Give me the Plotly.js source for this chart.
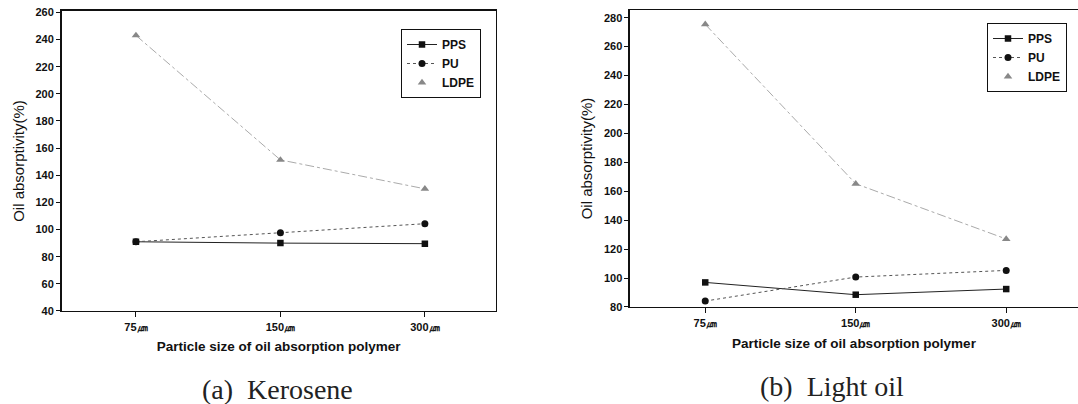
<!DOCTYPE html>
<html>
<head>
<meta charset="utf-8">
<script src="https://cdn.plot.ly/plotly-3.0.1.min.js"></script>
<style>html,body{margin:0;padding:0;background:#fff;}#chart{width:1078px;height:404px;}</style>
</head>
<body>
<div id="chart"></div>
<script>
const sizes = ["75㎛", "150㎛", "300㎛"];
const seriesNames = ["PPS", "PU", "LDPE"];
// (a) Kerosene
const kerosenePPS = [91, 90, 89.6];
const kerosenePU = [91, 97.6, 104.3];
const keroseneLDPE = [243, 151.3, 130];
// (b) Light oil
const lightPPS = [97, 88.5, 92.4];
const lightPU = [84.1, 100.7, 105.3];
const lightLDPE = [275.4, 165.2, 127];

const yTitle = "Oil absorptivity(%)";
const xTitle = "Particle size of oil absorption polymer";
const captions = ["(a)  Kerosene", "(b)  Light oil"];

const tickFont = {family: "Liberation Sans, Arial, sans-serif", size: 11, color: "#111", weight: 700};

function traces(pps, pu, ldpe, xa, ya, leg) {
  return [
    {x: sizes, y: pps, name: seriesNames[0], xaxis: xa, yaxis: ya, legend: leg, mode: "lines+markers",
     line: {color: "#222", width: 1, dash: "solid"}, marker: {symbol: "square", size: 6.5, color: "#111"}},
    {x: sizes, y: pu, name: seriesNames[1], xaxis: xa, yaxis: ya, legend: leg, mode: "lines+markers",
     line: {color: "#555", width: 1, dash: "dot"}, marker: {symbol: "circle", size: 7, color: "#111"}},
    {x: sizes, y: ldpe, name: seriesNames[2], xaxis: xa, yaxis: ya, legend: leg, mode: "lines", showlegend: false,
     line: {color: "#aaa", width: 1, dash: "dashdot"}, hoverinfo: "skip"},
    {x: sizes, y: ldpe, name: seriesNames[2], xaxis: xa, yaxis: ya, legend: leg, mode: "markers",
     marker: {symbol: "triangle-up", size: 7.5, color: "#888"}}
  ];
}

const data = [].concat(
  traces(kerosenePPS, kerosenePU, keroseneLDPE, "x", "y", "legend"),
  traces(lightPPS, lightPU, lightLDPE, "x2", "y2", "legend2")
);

function xax(domain, range, anchor, standoff) {
  return {domain: domain, range: range, anchor: anchor, type: "category", categoryarray: sizes,
    showgrid: false, zeroline: false, showline: true, linecolor: "#111", linewidth: 1.5, mirror: true,
    ticks: "outside", ticklen: 5, tickwidth: 1, tickcolor: "#111", tickfont: tickFont,
    title: {text: xTitle, font: {family: "Liberation Sans, Arial, sans-serif", size: 13.5, color: "#111", weight: 700}, standoff: standoff}};
}
function yax(domain, range, anchor, mirror, standoff) {
  return {domain: domain, range: range, anchor: anchor, dtick: 20, showgrid: false, zeroline: false,
    showline: true, linecolor: "#111", linewidth: 1.5, mirror: mirror,
    ticks: "outside", ticklen: 4, tickwidth: 1, tickcolor: "#111", tickfont: tickFont,
    title: {text: yTitle, font: {family: "Liberation Sans, Arial, sans-serif", size: 15, color: "#111"}, standoff: standoff}};
}

const legendBase = {bgcolor: "#fff", bordercolor: "#111", borderwidth: 1, xanchor: "left", yanchor: "top",
  font: {family: "Liberation Sans, Arial, sans-serif", size: 12, color: "#111", weight: 700},
  tracegroupgap: 0, itemwidth: 30};

const layout = {
  width: 1078, height: 404,
  margin: {l: 0, r: 0, t: 0, b: 0},
  paper_bgcolor: "#fff", plot_bgcolor: "#fff",
  xaxis: xax([0.0571, 0.4598], [-0.515, 2.49], "y", 10),
  yaxis: yax([0.2302, 0.9728], [40, 261], "x", true, 7),
  xaxis2: xax([0.5844, 1], [-0.5, 2.477], "y2", 11),
  yaxis2: yax([0.2401, 0.9752], [80, 285.3], "x2", false, 7),
  legend: Object.assign({}, legendBase, {x: 401/1078, y: (404-29)/404}),
  legend2: Object.assign({}, legendBase, {x: 987/1078, y: (404-23)/404}),
  annotations: [
    {text: captions[0], xref: "paper", yref: "paper", x: 277/1078, y: (404-389)/404, showarrow: false,
     xanchor: "center", yanchor: "middle", font: {family: "Liberation Serif, DejaVu Serif, serif", size: 28, color: "#222"}},
    {text: captions[1], xref: "paper", yref: "paper", x: 832/1078, y: (404-386)/404, showarrow: false,
     xanchor: "center", yanchor: "middle", font: {family: "Liberation Serif, DejaVu Serif, serif", size: 28, color: "#222"}}
  ],
  showlegend: true
};

Plotly.newPlot("chart", data, layout, {displayModeBar: false, staticPlot: true});
</script>
</body>
</html>
